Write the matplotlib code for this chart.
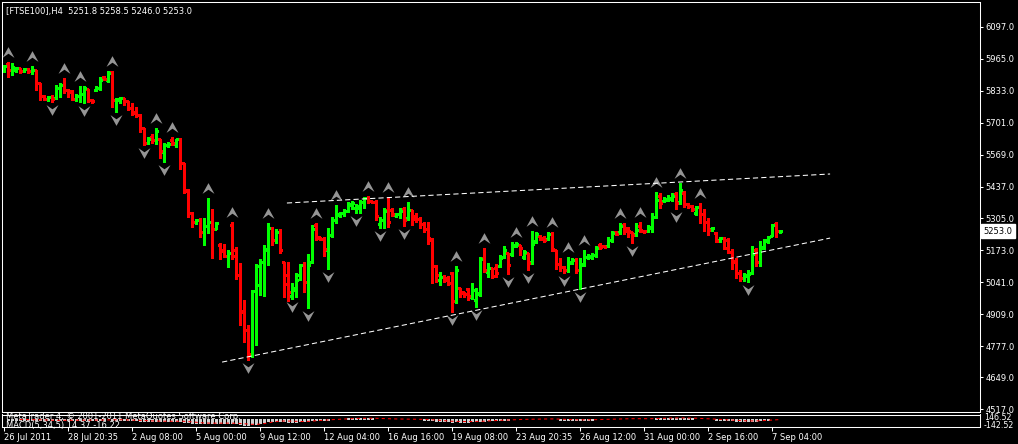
import numpy as np
import pandas as pd
import matplotlib
matplotlib.use("Agg")
import matplotlib.pyplot as plt
from matplotlib.path import Path
from matplotlib.transforms import offset_copy

plt.rcParams['font.family'] = ['DejaVu Sans']

# ---------------- data (FTSE100, H4 bars) ----------------
opens = [5919, 5944, 5919, 5919, 5927, 5915, 5923, 5915, 5919, 5865,
         5812, 5799, 5807, 5803, 5845, 5857, 5836, 5832, 5799, 5812,
         5820, 5841, 5795, 5836, 5845, 5890, 5878, 5911, 5795, 5795,
         5803, 5791, 5762, 5745, 5733, 5679, 5617, 5642, 5630, 5634,
         5580, 5609, 5630, 5613, 5634, 5535, 5422, 5328, 5290, 5299,
         5249, 5274, 5290, 5261, 5196, 5175, 5150, 5278, 5175, 5071,
         4918, 4844, 4740, 5007, 5030, 5125, 5175, 5266, 5216, 5249,
         5125, 5071, 4984, 5009, 5071, 5113, 5042, 5125, 5278, 5229,
         5220, 5175, 5237, 5299, 5319, 5328, 5336, 5361, 5348, 5348,
         5373, 5390, 5377, 5373, 5282, 5299, 5340, 5340, 5319, 5323,
         5344, 5307, 5340, 5315, 5303, 5282, 5261, 5216, 5108, 5051,
         5063, 5059, 5079, 4964, 5017, 5001, 5013, 4980, 4968, 4997,
         5141, 5084, 5100, 5100, 5108, 5146, 5162, 5158, 5191, 5196,
         5146, 5162, 5125, 5212, 5232, 5224, 5220, 5241, 5175, 5117,
         5104, 5092, 5121, 5133, 5092, 5117, 5146, 5146, 5154, 5196,
         5191, 5191, 5216, 5249, 5249, 5278, 5266, 5249, 5241, 5274,
         5253, 5253, 5266, 5311, 5398, 5377, 5381, 5386, 5406, 5373,
         5410, 5365, 5357, 5328, 5352, 5323, 5290, 5261, 5245, 5216,
         5224, 5216, 5166, 5125, 5079, 5059, 5067, 5079, 5175, 5125,
         5187, 5216, 5232, 5282, 5251.8]
highs = [5940, 5952, 5948, 5932, 5929, 5927, 5927, 5936, 5920, 5866,
         5816, 5812, 5816, 5857, 5865, 5886, 5841, 5836, 5820, 5853,
         5853, 5842, 5799, 5853, 5890, 5894, 5915, 5915, 5803, 5807,
         5804, 5792, 5783, 5766, 5737, 5680, 5642, 5654, 5679, 5635,
         5617, 5621, 5642, 5634, 5638, 5536, 5426, 5332, 5303, 5307,
         5307, 5390, 5344, 5290, 5204, 5199, 5175, 5290, 5187, 5121,
         4968, 4864, 5009, 5117, 5137, 5196, 5286, 5270, 5261, 5261,
         5126, 5125, 5038, 5079, 5117, 5125, 5158, 5278, 5286, 5230,
         5229, 5266, 5311, 5361, 5332, 5344, 5373, 5377, 5365, 5381,
         5394, 5398, 5378, 5381, 5311, 5348, 5394, 5348, 5328, 5348,
         5352, 5373, 5341, 5328, 5311, 5290, 5290, 5224, 5113, 5084,
         5071, 5067, 5084, 5108, 5018, 5002, 5017, 5038, 5017, 5146,
         5183, 5121, 5101, 5117, 5154, 5191, 5163, 5208, 5208, 5197,
         5175, 5163, 5253, 5249, 5237, 5232, 5249, 5249, 5176, 5141,
         5108, 5146, 5141, 5141, 5141, 5175, 5158, 5162, 5191, 5204,
         5196, 5229, 5253, 5253, 5286, 5286, 5270, 5250, 5286, 5290,
         5258, 5278, 5328, 5414, 5410, 5394, 5402, 5410, 5414, 5452,
         5418, 5369, 5361, 5357, 5369, 5344, 5307, 5270, 5249, 5229,
         5229, 5224, 5179, 5141, 5092, 5079, 5092, 5191, 5183, 5212,
         5220, 5232, 5282, 5290, 5258.5]
lows = [5911, 5890, 5899, 5911, 5907, 5911, 5907, 5903, 5836, 5795,
        5795, 5791, 5787, 5799, 5807, 5824, 5807, 5795, 5791, 5787,
        5783, 5787, 5783, 5832, 5836, 5878, 5870, 5766, 5745, 5783,
        5774, 5754, 5733, 5725, 5663, 5609, 5615, 5617, 5613, 5555,
        5539, 5601, 5609, 5601, 5510, 5410, 5311, 5270, 5282, 5229,
        5196, 5245, 5141, 5260, 5137, 5146, 5104, 5137, 5055, 4864,
        4794, 4720, 4732, 4782, 4988, 4984, 5113, 5196, 5204, 5162,
        4980, 4964, 4972, 4980, 5050, 5001, 4935, 5121, 5216, 5216,
        5150, 5096, 5229, 5286, 5311, 5315, 5332, 5344, 5328, 5328,
        5348, 5369, 5369, 5299, 5266, 5266, 5270, 5315, 5311, 5307,
        5274, 5299, 5278, 5290, 5266, 5249, 5199, 5038, 5042, 5030,
        5042, 5030, 4918, 4955, 4980, 4980, 4968, 4972, 4939, 4984,
        5084, 5063, 5059, 5063, 5104, 5141, 5075, 5150, 5187, 5154,
        5137, 5092, 5117, 5204, 5216, 5208, 5216, 5170, 5096, 5088,
        5079, 5084, 5117, 5079, 5013, 5108, 5137, 5137, 5146, 5179,
        5186, 5187, 5208, 5237, 5241, 5241, 5229, 5204, 5232, 5249,
        5245, 5249, 5249, 5307, 5348, 5373, 5377, 5377, 5344, 5365,
        5352, 5348, 5336, 5319, 5286, 5253, 5237, 5253, 5208, 5208,
        5179, 5162, 5096, 5059, 5046, 5046, 5042, 5075, 5108, 5108,
        5179, 5204, 5231, 5229, 5246.0]
closes = [5936, 5919, 5932, 5927, 5915, 5923, 5915, 5919, 5865, 5812,
          5799, 5807, 5799, 5845, 5857, 5836, 5828, 5799, 5812, 5820,
          5845, 5795, 5791, 5845, 5878, 5882, 5907, 5795, 5799, 5803,
          5791, 5762, 5741, 5733, 5679, 5617, 5634, 5630, 5667, 5584,
          5609, 5613, 5617, 5633, 5535, 5418, 5328, 5290, 5299, 5249,
          5274, 5290, 5261, 5286, 5170, 5150, 5162, 5150, 5071, 4922,
          4844, 4744, 5007, 5108, 5125, 5179, 5266, 5216, 5249, 5175,
          5034, 5001, 5017, 5051, 5113, 5042, 5113, 5261, 5224, 5220,
          5179, 5237, 5299, 5323, 5328, 5336, 5365, 5369, 5357, 5373,
          5390, 5377, 5373, 5315, 5299, 5336, 5290, 5323, 5323, 5336,
          5299, 5340, 5303, 5303, 5282, 5261, 5224, 5108, 5071, 5063,
          5051, 5038, 4964, 5092, 4997, 4993, 4984, 5009, 4993, 5137,
          5092, 5100, 5067, 5079, 5141, 5175, 5113, 5196, 5199, 5183,
          5166, 5121, 5199, 5241, 5220, 5216, 5241, 5179, 5117, 5104,
          5092, 5125, 5133, 5092, 5113, 5146, 5150, 5154, 5183, 5187,
          5187, 5216, 5245, 5241, 5274, 5253, 5253, 5237, 5257, 5257,
          5252, 5270, 5311, 5381, 5369, 5386, 5390, 5398, 5369, 5422,
          5365, 5357, 5344, 5352, 5323, 5290, 5257, 5266, 5212, 5224,
          5183, 5166, 5129, 5079, 5059, 5071, 5075, 5158, 5125, 5183,
          5212, 5229, 5278, 5253, 5253.0]

# bar numbers carrying Bill Williams fractal arrows
up_fractals = [1, 7, 15, 19, 27, 38, 42, 51, 57, 66, 78, 83, 91, 96, 101,
               113, 120, 128, 132, 137, 141, 145, 154, 159, 163, 169, 174]
down_fractals = [12, 20, 28, 35, 40, 61, 72, 76, 81, 88, 94, 100, 112, 118,
                 126, 131, 140, 144, 157, 168, 186]

# trend lines (bar number, price)
upper_trend_x = [70.8, 206.6]
upper_trend_y = [5369, 5489]
lower_trend_x = [54.6, 206.6]
lower_trend_y = [4711, 5224]

price_ticks = [6097.0, 5965.0, 5833.0, 5701.0, 5569.0, 5437.0, 5305.0,
               5173.0, 5041.0, 4909.0, 4777.0, 4649.0, 4517.0]
time_tick_bars = [0, 16, 32, 48, 64, 80, 96, 112, 128, 144, 160, 176, 192]
time_labels = ["26 Jul 2011", "28 Jul 20:35", "2 Aug 08:00", "5 Aug 00:00",
               "9 Aug 12:00", "12 Aug 04:00", "16 Aug 16:00", "19 Aug 08:00",
               "23 Aug 20:35", "26 Aug 12:00", "31 Aug 00:00", "2 Sep 16:00",
               "7 Sep 04:00"]
title = "[FTSE100],H4  5251.8 5258.5 5246.0 5253.0"
last_price = 5253.0
macd_title = "MACD(5,34,5) 14.37 -16.22"
copyright_text = "MetaTrader 4, \u00a9 2001-2011 MetaQuotes Software Corp."
macd_scale_labels = ["146.52", "-142.52"]

# ---------------- figure ----------------
W, H = 1018, 444
fig = plt.figure(figsize=(W / 100, H / 100), dpi=100, facecolor='black')


def px_rect(l, t, r, b):
    return [l / W, 1 - b / H, (r - l) / W, (b - t) / H]


ax = fig.add_axes(px_rect(2, 2, 980, 412))
ax2 = fig.add_axes(px_rect(2, 414.5, 980, 427.3))
FS = 6.0
for a in (ax, ax2):
    a.set_facecolor('black')
    for s in a.spines.values():
        s.set_color('white')
        s.set_linewidth(0.75)
    a.set_xlim(-0.425, 244.075)

o = np.array(opens, float)
h = np.array(highs, float)
l = np.array(lows, float)
c = np.array(closes, float)
idx = np.arange(len(c))
cols = np.where(c >= o, '#00ff00', '#ff0000')

ax.vlines(idx, l, h, colors=cols, linewidth=0.75, antialiased=False)
ax.hlines(o, idx - 0.5, idx, colors=cols, linewidth=0.75, antialiased=False)
ax.hlines(c, idx, idx + 0.5, colors=cols, linewidth=0.75, antialiased=False)

# fractal arrows
up_path = Path([(0, 0.45), (0.5, -0.45), (0, -0.1), (-0.5, -0.45), (0, 0.45)],
               [Path.MOVETO, Path.LINETO, Path.LINETO, Path.LINETO, Path.CLOSEPOLY])
down_path = Path([(0, -0.45), (0.5, 0.45), (0, 0.1), (-0.5, 0.45), (0, -0.45)],
                 [Path.MOVETO, Path.LINETO, Path.LINETO, Path.LINETO, Path.CLOSEPOLY])
tr_up = offset_copy(ax.transData, fig=fig, y=7.2, units='points')
tr_dn = offset_copy(ax.transData, fig=fig, y=-6.0, units='points')
ax.plot(up_fractals, h[up_fractals], linestyle='none', marker=up_path,
        markersize=8.6, color='#959595', markeredgewidth=0, transform=tr_up)
ax.plot(down_fractals, l[down_fractals], linestyle='none', marker=down_path,
        markersize=8.6, color='#959595', markeredgewidth=0, transform=tr_dn)

# trend lines
for xs, ys in ((upper_trend_x, upper_trend_y), (lower_trend_x, lower_trend_y)):
    ax.plot(xs, ys, color='white', linewidth=0.75, linestyle=(0, (5, 3)))

ax.set_ylim(4504.6, 6200.4)
ax.yaxis.tick_right()
ax.set_yticks(price_ticks)
ax.set_yticklabels([f"{v:.1f}" for v in price_ticks])
ax.tick_params(axis='y', colors='white', length=2.2, width=0.75, pad=1.5,
               labelsize=FS, labelcolor='white')
ax.set_xticks([])

ax.text(1.0 + 3.5 / 978, last_price, f"{last_price:.1f}",
        transform=ax.get_yaxis_transform(), ha='left', va='center',
        fontsize=FS, color='black',
        bbox=dict(boxstyle='square,pad=0.25', fc='white', ec='white'))

fig.text(6 / W, 1 - 14 / H, title, color='white', fontsize=FS, va='baseline', ha='left')

# MACD sub-window
cs = pd.Series(c)
macd_main = cs.ewm(span=5, adjust=False).mean() - cs.ewm(span=34, adjust=False).mean()
macd_signal = macd_main.rolling(5).mean()
ax2.vlines(idx, 0, macd_main.values, colors='#d0d0d0', linewidth=0.75, antialiased=False)
ax2.plot(idx, macd_signal.values, color='#ff0000', linewidth=0.75, linestyle=(0, (3, 3)))
ax2.set_ylim(-600, 380)
ax2.set_yticks([])
ax2.set_xticks(time_tick_bars)
ax2.set_xticklabels(time_labels)
ax2.tick_params(axis='x', colors='white', length=3.2, width=0.75, pad=0.8,
                labelsize=FS, labelcolor='white')
for lab in ax2.get_xticklabels():
    lab.set_ha('left')

fig.text(6 / W, 1 - 419.0 / H, copyright_text, color='white', fontsize=FS, va='baseline')
fig.text(6 / W, 1 - 428.3 / H, macd_title, color='white', fontsize=FS, va='baseline')
fig.text(984 / W, 1 - 420.3 / H, macd_scale_labels[0], color='white', fontsize=5.7, va='baseline')
fig.text(984 / W, 1 - 428.4 / H, macd_scale_labels[1], color='white', fontsize=5.7, va='baseline')

fig.savefig("out.png", dpi=100, facecolor='black')
